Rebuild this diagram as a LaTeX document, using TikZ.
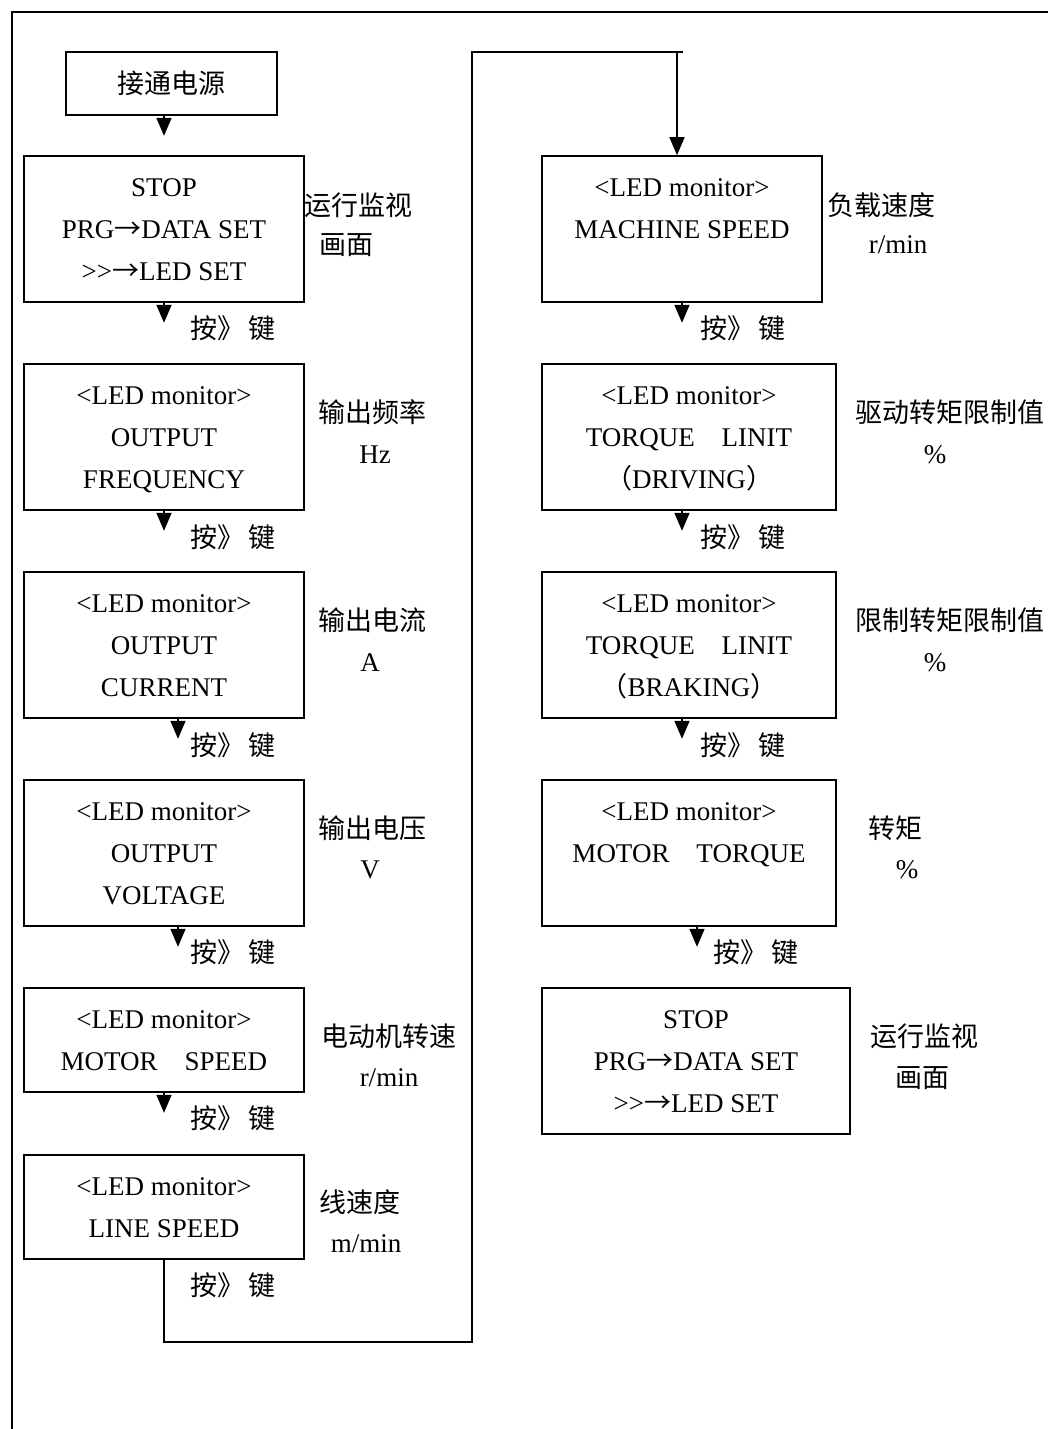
\documentclass[tikz,border=0pt]{standalone}
\usepackage{fontspec}
\setmainfont{Liberation Serif}
\newfontfamily\cjk{Noto Sans CJK SC}
\usepackage{tikz}
\usetikzlibrary{arrows.meta, calc}

\begin{document}
\begin{tikzpicture}[x=1pt, y=-1pt,
  box/.style={draw, line width=1.6pt, minimum width=280pt, minimum height=146pt,
    inner sep=0pt, font=\fontsize{27}{42}\selectfont},
  lines/.style={anchor=north, align=center, inner sep=0pt, font=\fontsize{27}{42}\selectfont},
  note/.style={inner sep=0pt, font=\fontsize{27}{32}\selectfont\cjk},
  keynote/.style={note, anchor=west},
  flow/.style={line width=1.6pt, -{Triangle[width=15pt, length=18pt]}},
  wire/.style={line width=1.6pt}]
\useasboundingbox (0,0) rectangle (1048,1429);
% page frame
\draw[line width=2pt] (12,1429) -- (12,12) -- (1048,12);

% left column
\node[box, minimum width=211pt, minimum height=63pt] (L0) at (171.5,83.5) {\cjk 接通电源};
\node[box] (L1) at (164,229) {};
\node[box] (L2) at (164,437) {};
\node[box] (L3) at (164,645) {};
\node[box] (L4) at (164,853) {};
\node[box, minimum height=104pt] (L5) at (164,1040) {};
\node[box, minimum height=104pt] (L6) at (164,1207) {};
\node[lines] (L1t) at ([yshift=-12pt]L1.north) {\strut STOP\\PRG{\cjk →}DATA SET\\>{}>{\cjk →}LED SET};
\node[lines] (L2t) at ([yshift=-12pt]L2.north) {\strut <LED monitor>\\OUTPUT\\FREQUENCY};
\node[lines] (L3t) at ([yshift=-12pt]L3.north) {\strut <LED monitor>\\OUTPUT\\CURRENT};
\node[lines] (L4t) at ([yshift=-12pt]L4.north) {\strut <LED monitor>\\OUTPUT\\VOLTAGE};
\node[lines] (L5t) at ([yshift=-12pt]L5.north) {\strut <LED monitor>\\MOTOR\quad SPEED};
\node[lines] (L6t) at ([yshift=-12pt]L6.north) {\strut <LED monitor>\\LINE SPEED};

% right column
\node[box] (R1) at (682,229) {};
\node[box, minimum width=294pt] (R2) at (689,437) {};
\node[box, minimum width=294pt] (R3) at (689,645) {};
\node[box, minimum width=294pt] (R4) at (689,853) {};
\node[box, minimum width=308pt] (R5) at (696,1061) {};
\node[lines] (R1t) at ([yshift=-12pt]R1.north) {\strut <LED monitor>\\MACHINE SPEED};
\node[lines] (R2t) at ([yshift=-12pt]R2.north) {\strut <LED monitor>\\TORQUE\quad LINIT\\{\cjk （}DRIVING{\cjk ）}};
\node[lines] (R3t) at ([yshift=-12pt]R3.north) {\strut <LED monitor>\\TORQUE\quad LINIT\\{\cjk （}BRAKING{\cjk ）}};
\node[lines] (R4t) at ([yshift=-12pt]R4.north) {\strut <LED monitor>\\MOTOR\quad TORQUE};
\node[lines] (R5t) at ([yshift=-12pt]R5.north) {\strut STOP\\PRG{\cjk →}DATA SET\\>{}>{\cjk →}LED SET};

% side notes
\node[note] (n1a) at (358,205) {运行监视};
\node[note] (n1b) at (346,245) {画面};
\node[note] (n2a) at (372,412) {输出频率};
\node[note, font=\fontsize{27}{32}\selectfont] (n2b) at (375,455) {Hz};
\node[note] (n3a) at (372,620) {输出电流};
\node[note, font=\fontsize{27}{32}\selectfont] (n3b) at (370,663) {A};
\node[note] (n4a) at (372,828) {输出电压};
\node[note, font=\fontsize{27}{32}\selectfont] (n4b) at (370,870) {V};
\node[note] (n5a) at (389,1036) {电动机转速};
\node[note, font=\fontsize{27}{32}\selectfont] (n5b) at (389,1078) {r/min};
\node[note] (n6a) at (360,1202) {线速度};
\node[note, font=\fontsize{27}{32}\selectfont] (n6b) at (366,1244) {m/min};
\node[note] (m1a) at (881,205) {负载速度};
\node[note, font=\fontsize{27}{32}\selectfont] (m1b) at (898,245) {r/min};
\node[note, anchor=west] (m2a) at (855,412) {驱动转矩限制值};
\node[note, font=\fontsize{27}{32}\selectfont] (m2b) at (935,455) {\%};
\node[note, anchor=west] (m3a) at (855,620) {限制转矩限制值};
\node[note, font=\fontsize{27}{32}\selectfont] (m3b) at (935,663) {\%};
\node[note] (m4a) at (895,828) {转矩};
\node[note, font=\fontsize{27}{32}\selectfont] (m4b) at (907,870) {\%};
\node[note] (m5a) at (924,1036) {运行监视};
\node[note] (m5b) at (922,1078) {画面};

% key presses
\foreach \y/\nm in {328/k1, 537/k2, 745/k3, 952/k4, 1118/k5, 1285/k6}
  \node[keynote] (\nm) at (190,\y) {按》\hspace{4pt}键};
\foreach \y/\nm in {328/q1, 537/q2, 745/q3}
  \node[keynote] (\nm) at (700,\y) {按》\hspace{4pt}键};
\node[keynote] (q4) at (713,952) {按》\hspace{4pt}键};

% arrows
\draw[flow] (L0.south -| L1.south) -- ++(0,20);
\draw[flow] (L1.south) -- ++(0,20);
\draw[flow] (L2.south) -- ++(0,20);
\draw[flow] ([xshift=14pt]L3.south) -- ++(0,20);
\draw[flow] ([xshift=14pt]L4.south) -- ++(0,20);
\draw[flow] (L5.south) -- ++(0,20);
\draw[flow] (R1.south) -- ++(0,20);
\draw[flow] ([xshift=-7pt]R2.south) -- ++(0,20);
\draw[flow] ([xshift=-7pt]R3.south) -- ++(0,20);
\draw[flow] ([xshift=8pt]R4.south) -- ++(0,20);

% loop to second column
\coordinate (loopbot) at (472,1342);
\coordinate (looptop) at (683,52);
\coordinate (entry) at ([xshift=-5pt]R1.north);
\draw[wire] (L6.south) |- (loopbot) |- (looptop);
\draw[flow] (entry |- looptop) -- (entry);
\end{tikzpicture}
\end{document}
